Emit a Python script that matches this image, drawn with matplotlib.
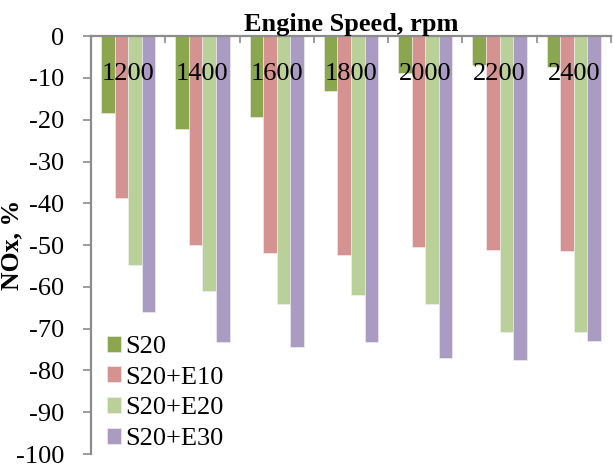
import matplotlib
matplotlib.use("Agg")
import matplotlib.pyplot as plt
import numpy as np

# Engine speeds (rpm) and NOx change (%) for each fuel blend
speeds = ["1200", "1400", "1600", "1800", "2000", "2200", "2400"]
s20 = [-18.4, -22.1, -19.4, -13.0, -8.8, -6.8, -7.3]
s20_e10 = [-38.8, -50.0, -52.0, -52.4, -50.5, -51.2, -51.3]
s20_e20 = [-54.7, -61.1, -64.2, -61.9, -64.2, -70.9, -70.7]
s20_e30 = [-66.1, -73.3, -74.5, -73.3, -77.1, -77.4, -72.9]
series_names = ["S20", "S20+E10", "S20+E20", "S20+E30"]
y_ticks = list(range(0, -101, -10))

colors = ["#8aa64f", "#d49391", "#b9d098", "#a99bc1"]
plt.rcParams["font.family"] = ["Liberation Serif", "DejaVu Serif"]

fig = plt.figure(figsize=(6.13, 4.69), dpi=100)
W, H = 613, 469
ax = fig.add_axes([91 / W, 1 - 454 / H, (611 - 91) / W, (454 - 36.2) / H])
ax.set_axisbelow(False)

x = np.arange(len(speeds))
bar_w = 0.183
series = [s20, s20_e10, s20_e20, s20_e30]
for i, (vals, name, c) in enumerate(zip(series, series_names, colors)):
    ax.bar(x + (i - 1.5) * bar_w, vals, width=bar_w, color=c,
           edgecolor="#f4f0f6", linewidth=0.4, label=name, zorder=1)

ax.set_xlim(-0.5, len(speeds) - 0.5)
ax.set_ylim(-100, 0)

# y axis
ax.set_yticks(y_ticks)
ax.set_yticklabels([str(v) for v in y_ticks])
ax.tick_params(axis="y", direction="out", length=6, width=1.2,
               color="#8c8c8c", labelsize=19, pad=13)

# x axis sits along the zero line at the top
ax.xaxis.set_ticks_position("top")
ax.set_xticks(x)
ax.set_xticklabels(speeds)
ax.set_xticks(np.arange(len(speeds) + 1) - 0.5, minor=True)
ax.tick_params(axis="x", which="major", length=0, labelsize=19,
               pad=-35, labeltop=True, labelbottom=False)
ax.tick_params(axis="x", which="minor", direction="in", length=5,
               width=1.2, color="#8c8c8c")

for side in ["bottom", "right"]:
    ax.spines[side].set_visible(False)
for side in ["left", "top"]:
    ax.spines[side].set_color("#8c8c8c")
    ax.spines[side].set_linewidth(1.6)

ax.set_title("Engine Speed, rpm", fontsize=19, fontweight="bold", pad=4)
ax.set_ylabel("NOx, %", fontsize=18.5, fontweight="bold")
ax.yaxis.set_label_coords(-0.131, 0.5)

leg = ax.legend(loc="lower left", bbox_to_anchor=(0.01, -0.016), frameon=False,
                fontsize=19, handlelength=0.55, handleheight=0.55,
                handletextpad=0.15, labelspacing=0.32, borderaxespad=0.0)

fig.savefig("out.png", dpi=100)
